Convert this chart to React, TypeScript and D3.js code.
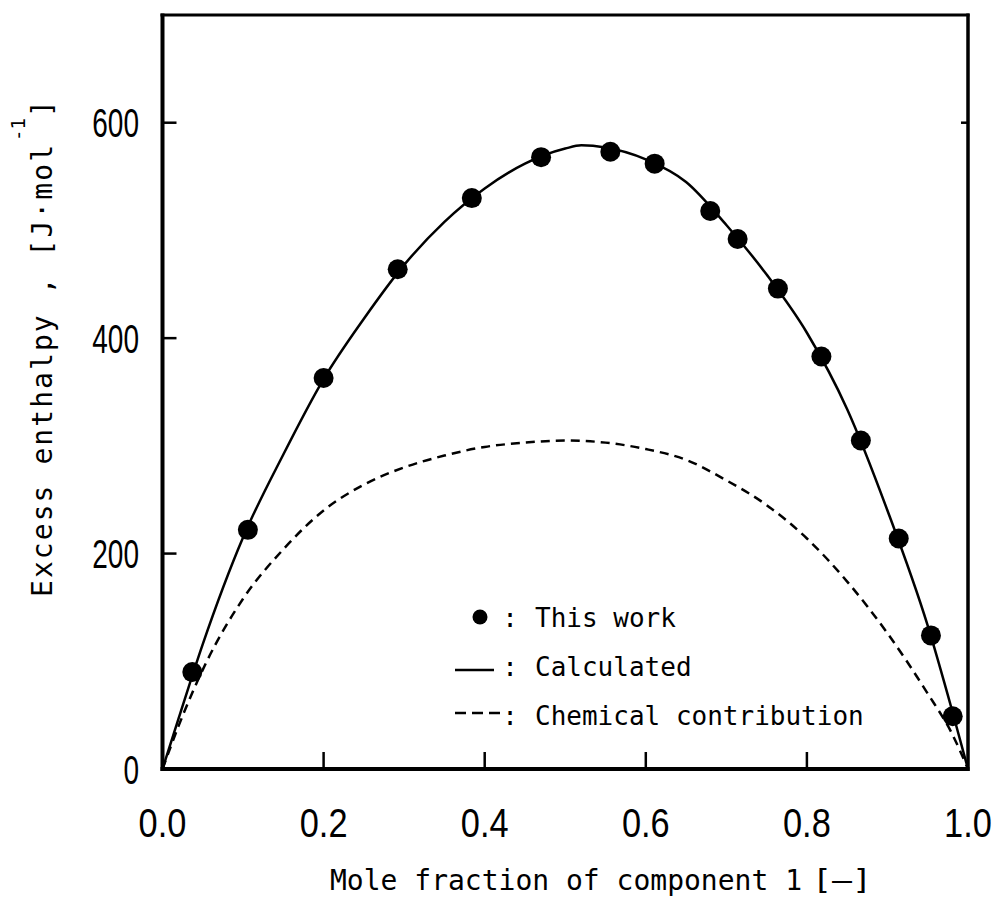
import React from "react";
import * as d3 from "d3";

// Measured excess enthalpy (this work)
const expX = [0.037, 0.106, 0.2, 0.292, 0.384, 0.47, 0.556, 0.611, 0.68, 0.714, 0.764, 0.818, 0.867, 0.914, 0.954, 0.981];
const expH = [90, 222, 363, 464, 530, 568, 573, 562, 518, 492, 446, 383, 305, 214, 124, 49];

// Calculated curve
const calcX = [0, 0.02, 0.05, 0.1, 0.15, 0.2, 0.25, 0.3, 0.35, 0.4, 0.45, 0.5, 0.52, 0.55, 0.6, 0.65, 0.7, 0.75, 0.8, 0.85, 0.9, 0.95, 0.98, 1];
const calcH = [0, 47, 116, 215, 292, 362, 418, 468, 508, 539, 562, 576, 579, 577, 566, 545, 505, 459, 405, 334, 240, 133, 55, 0];

// Chemical contribution curve
const chemX = [0, 0.02, 0.055, 0.1, 0.15, 0.2, 0.25, 0.3, 0.35, 0.4, 0.45, 0.5, 0.55, 0.6, 0.65, 0.7, 0.75, 0.8, 0.85, 0.9, 0.95, 0.98, 1];
const chemH = [0, 40, 100, 158, 204, 240, 264, 280, 291, 299, 303, 305, 303, 297, 287, 268, 245, 214, 174, 126, 70, 33, 0];

const xTicks = [0, 0.2, 0.4, 0.6, 0.8, 1.0];
const xTickLabels = ["0.0", "0.2", "0.4", "0.6", "0.8", "1.0"];
const yTicks = [0, 200, 400, 600];
const yTickLabels = ["0", "200", "400", "600"];
const rightTicks = [600];

const legendLabels = ["This work", "Calculated", "Chemical contribution"];

export default function App() {
  const W = 998;
  const H = 905;
  const x = d3.scaleLinear().domain([0, 1]).range([162.5, 968]);
  const y = d3.scaleLinear().domain([0, 700]).range([769, 15]);

  const line = d3
    .line<[number, number]>()
    .x((d) => x(d[0]))
    .y((d) => y(d[1]))
    .curve(d3.curveMonotoneX);

  const calcPts = calcX.map((v, i) => [v, calcH[i]] as [number, number]);
  const chemPts = chemX.map((v, i) => [v, chemH[i]] as [number, number]);

  const mono = "'DejaVu Sans Mono', monospace";
  const num = "'Liberation Sans', Arial, sans-serif";

  const x0 = x(0);
  const x1 = x(1);
  const yb = y(0);
  const yt = y(700);

  const legY = [627, 676, 725];

  return (
    <div style={{ position: "absolute", left: 0, top: 0 }}>
      <svg width={W} height={H} viewBox={`0 0 ${W} ${H}`} style={{ display: "block", background: "#fff" }}>
        <rect x={0} y={0} width={W} height={H} fill="#fff" />

        {/* frame */}
        <line x1={x0 - 2} x2={x1 + 1.5} y1={yt} y2={yt} stroke="#000" strokeWidth={3} />
        <line x1={x0} x2={x0} y1={yt - 1.5} y2={yb + 2} stroke="#000" strokeWidth={4} />
        <line x1={x1} x2={x1} y1={yt - 1.5} y2={yb + 2} stroke="#000" strokeWidth={3.5} />
        <line x1={x0 - 2} x2={x1 + 1.5} y1={yb} y2={yb} stroke="#000" strokeWidth={4} />

        {/* ticks */}
        {xTicks.filter((t) => t > 0 && t < 1).map((t) => (
          <line key={`xt${t}`} x1={x(t)} x2={x(t)} y1={yb} y2={yb - 17} stroke="#000" strokeWidth={2.5} />
        ))}
        {yTicks.filter((t) => t > 0).map((t) => (
          <line key={`yt${t}`} x1={x0} x2={x0 + 14} y1={y(t)} y2={y(t)} stroke="#000" strokeWidth={2.5} />
        ))}
        {rightTicks.map((t) => (
          <line key={`rt${t}`} x1={x1} x2={x1 - 7} y1={y(t)} y2={y(t)} stroke="#000" strokeWidth={2.5} />
        ))}

        {/* tick labels */}
        {xTicks.map((t, i) => (
          <g key={`xl${t}`} transform={`translate(${x(t)},837) scale(0.86,1)`}>
            <text textAnchor="middle" fontFamily={num} fontSize={40} fill="#000">
              {xTickLabels[i]}
            </text>
          </g>
        ))}
        {yTicks.map((t, i) => (
          <g key={`yl${t}`} transform={`translate(139,${y(t) + 14.5}) scale(0.7,1)`}>
            <text textAnchor="end" fontFamily={num} fontSize={40} fill="#000">
              {yTickLabels[i]}
            </text>
          </g>
        ))}

        {/* curves */}
        <path d={line(chemPts) ?? ""} fill="none" stroke="#000" strokeWidth={2.5} strokeDasharray="9 6" />
        <path d={line(calcPts) ?? ""} fill="none" stroke="#000" strokeWidth={2.5} />

        {/* measured points */}
        {expX.map((v, i) => (
          <circle key={`p${i}`} cx={x(v)} cy={y(expH[i])} r={10} fill="#000" />
        ))}

        {/* legend */}
        <circle cx={480} cy={617} r={7.5} fill="#000" />
        <line x1={455} x2={494} y1={670} y2={670} stroke="#000" strokeWidth={2.5} />
        <line x1={455} x2={500} y1={713} y2={713} stroke="#000" strokeWidth={2.5} strokeDasharray="11 6" />
        {legY.map((ly, i) => (
          <g key={`lg${i}`}>
            <text x={510} y={ly} textAnchor="middle" fontFamily={mono} fontSize={26} fill="#000">:</text>
            <text x={535} y={ly} fontFamily={mono} fontSize={26} fill="#000">{legendLabels[i]}</text>
          </g>
        ))}

        {/* axis titles */}
        <text x={330} y={890} fontFamily={mono} fontSize={28} fill="#000">
          Mole fraction of component 1
        </text>
        <text x={812} y={890} fontFamily={mono} fontSize={28} fill="#000" textLength={60} lengthAdjust="spacingAndGlyphs">
          [—]
        </text>
        <g transform="translate(52,597) rotate(-90)">
          <text x={0} y={0} fontFamily={mono} fontSize={28} fill="#000" textLength={452} lengthAdjust="spacing">
            Excess enthalpy , [J·mol
          </text>
          <text x={456} y={-27} fontFamily={mono} fontSize={19} fill="#000">-1</text>
          <text x={480} y={0} fontFamily={mono} fontSize={28} fill="#000">]</text>
        </g>
      </svg>
    </div>
  );
}
